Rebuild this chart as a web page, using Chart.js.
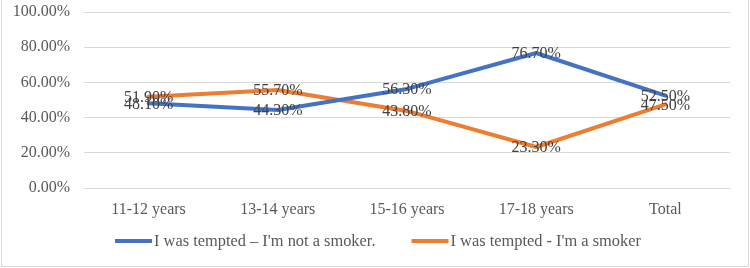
<!DOCTYPE html>
<html>
<head>
<meta charset="utf-8">
<script src="https://cdn.jsdelivr.net/npm/chart.js@4/dist/chart.umd.min.js"></script>
<style>
  html, body { margin: 0; padding: 0; background: #fff; }
  #wrap { width: 750px; height: 268px; position: relative; }
</style>
</head>
<body>
<div id="wrap"><canvas id="c" width="750" height="268"></canvas></div>
<script>
const categories = ["11-12 years", "13-14 years", "15-16 years", "17-18 years", "Total"];
const seriesNames = ["I was tempted \u2013 I'm not a smoker.", "I was tempted - I'm a smoker"];
const notSmoker = [48.1, 44.3, 56.3, 76.7, 52.5];
const smoker = [51.9, 55.7, 43.8, 23.3, 47.5];
const yTicks = [0, 20, 40, 60, 80, 100];

const FONT = "'Liberation Serif', 'Times New Roman', serif";
const colors = ["#4472C4", "#ED7D31"];

const frame = {
  id: 'frame',
  beforeDraw(chart) {
    const ctx = chart.ctx;
    ctx.save();
    ctx.fillStyle = '#fff';
    ctx.fillRect(0, 0, chart.width, chart.height);
    ctx.strokeStyle = '#d9d9d9';
    ctx.lineWidth = 1;
    ctx.strokeRect(1.5, -0.5, 747, 267);
    ctx.restore();
  }
};

const labelsPlugin = {
  id: 'valueLabels',
  afterDatasetsDraw(chart) {
    const ctx = chart.ctx;
    ctx.save();
    ctx.font = '16px ' + FONT;
    ctx.fillStyle = '#404040';
    ctx.textAlign = 'center';
    ctx.textBaseline = 'middle';
    chart.data.datasets.forEach((ds, i) => {
      const meta = chart.getDatasetMeta(i);
      meta.data.forEach((pt, j) => {
        ctx.fillText(ds.data[j].toFixed(2) + '%', pt.x, pt.y + 1);
      });
    });
    ctx.restore();
  }
};

const legendPlugin = {
  id: 'customLegend',
  afterDraw(chart) {
    const ctx = chart.ctx;
    ctx.save();
    ctx.font = '16.4px ' + FONT;
    ctx.textBaseline = 'middle';
    const lineW = 37, gapText = 2, gapItems = 36;
    const dss = chart.data.datasets;
    const widths = dss.map(d => lineW + gapText + ctx.measureText(d.label).width);
    const total = widths.reduce((a, b) => a + b, 0) + gapItems * (dss.length - 1);
    let x = (chart.width - total) / 2 + 3;
    const y = 241;
    dss.forEach((d, i) => {
      ctx.strokeStyle = d.borderColor;
      ctx.lineWidth = 4;
      ctx.beginPath();
      ctx.moveTo(x, y);
      ctx.lineTo(x + lineW, y);
      ctx.stroke();
      ctx.fillStyle = '#595959';
      ctx.textAlign = 'left';
      ctx.fillText(d.label, x + lineW + gapText, y + 1);
      x += widths[i] + gapItems;
    });
    ctx.restore();
  }
};

new Chart(document.getElementById('c'), {
  type: 'line',
  data: {
    labels: categories,
    datasets: [
      { label: seriesNames[0], data: notSmoker, borderColor: colors[0], backgroundColor: colors[0] },
      { label: seriesNames[1], data: smoker, borderColor: colors[1], backgroundColor: colors[1] }
    ]
  },
  options: {
    responsive: false,
    animation: false,
    devicePixelRatio: 1,
    layout: { padding: { top: 12, right: 20, bottom: 40, left: 0 } },
    elements: {
      line: { borderWidth: 4, tension: 0, borderCapStyle: 'round', borderJoinStyle: 'round' },
      point: { radius: 0, hoverRadius: 0 }
    },
    plugins: {
      legend: { display: false },
      tooltip: { enabled: false }
    },
    scales: {
      x: {
        offset: true,
        grid: { display: false, drawTicks: false },
        border: { display: false },
        ticks: { color: '#595959', font: { family: FONT, size: 16 }, padding: 12, maxRotation: 0 },
        afterFit(s) { s.height = 40; s.paddingLeft = 0; s.paddingRight = 0; }
      },
      y: {
        min: 0, max: 100,
        afterBuildTicks(s) { s.ticks = yTicks.map(v => ({ value: v })); },
        grid: { color: '#d9d9d9', lineWidth: 1, drawTicks: false },
        border: { display: false },
        ticks: {
          color: '#595959', font: { family: FONT, size: 16 }, padding: 14,
          callback: v => v.toFixed(2) + '%'
        },
        afterFit(s) { s.width = 84; s.paddingTop = 0; s.paddingBottom = 0; }
      }
    }
  },
  plugins: [frame, labelsPlugin, legendPlugin]
});
</script>
</body>
</html>
